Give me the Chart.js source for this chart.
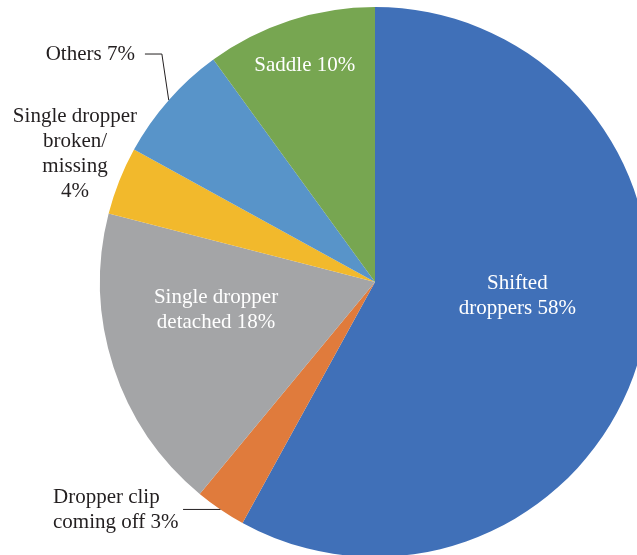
<!DOCTYPE html>
<html>
<head>
<meta charset="utf-8">
<script src="https://cdn.jsdelivr.net/npm/chart.js@4.4.1/dist/chart.umd.min.js"></script>
<style>
  html, body { margin: 0; padding: 0; background: #fff; overflow: hidden; width: 637px; height: 555px; }
  #wrap { position: absolute; left: 0; top: 0; width: 750px; height: 564px; }
</style>
</head>
<body>
<div id="wrap"><canvas id="pie" width="750" height="564"></canvas></div>
<script>
// Datos del gráfico
const categories = [
  "Shifted droppers",
  "Dropper clip coming off",
  "Single dropper detached",
  "Single dropper broken/missing",
  "Others",
  "Saddle"
];
const values = [58, 3, 18, 4, 7, 10];
const colors = ["#4070b8", "#e07b3c", "#a4a5a7", "#f2b92c", "#5894c9", "#77a651"];

// Texto de las etiquetas (líneas)
const labelLines = [
  ["Shifted", "droppers 58%"],
  ["Dropper clip", "coming off 3%"],
  ["Single dropper", "detached 18%"],
  ["Single dropper", "broken/", "missing", "4%"],
  ["Others 7%"],
  ["Saddle 10%"]
];

// Colocación de etiquetas (en unidades del radio, relativo al centro)
const labelPlace = [
  { inside: true, angle: 95.6, f: 0.52 },
  { x: -1.171, y: 0.83, align: "left", leader: -0.698 },
  { inside: true, angle: 260, f: 0.587 },
  { x: -1.091, y: -0.467, align: "center" },
  { x: -0.873, y: -0.829, align: "right", leader: -0.775 },
  { inside: true, angle: 342, f: 0.826 }
];

const FONT = '21px "Liberation Serif", "Times New Roman", serif';
const LINE_H = 25;

const pieLabels = {
  id: "pieLabels",
  afterDatasetsDraw(chart) {
    const ctx = chart.ctx;
    const meta = chart.getDatasetMeta(0);
    ctx.save();
    ctx.font = FONT;
    ctx.textBaseline = "middle";
    meta.data.forEach((arc, i) => {
      const { x: cx, y: cy, outerRadius: r, startAngle, endAngle } = arc.getProps(["x", "y", "outerRadius", "startAngle", "endAngle"], true);
      const p = labelPlace[i];
      const lines = labelLines[i];
      let tx, ty;
      if (p.inside) {
        const a = (p.angle - 90) * Math.PI / 180;
        tx = cx + Math.cos(a) * r * p.f;
        ty = cy + Math.sin(a) * r * p.f;
        ctx.fillStyle = "#ffffff";
        ctx.textAlign = "center";
      } else {
        tx = cx + p.x * r;
        ty = cy + p.y * r;
        ctx.fillStyle = "#231f20";
        ctx.textAlign = p.align;
        if (p.leader !== undefined) {
          const mid = (startAngle + endAngle) / 2;
          const ex = cx + Math.cos(mid) * r;
          const ey = cy + Math.sin(mid) * r;
          const kx = cx + p.leader * r;
          ctx.strokeStyle = "#231f20";
          ctx.lineWidth = 1;
          ctx.beginPath();
          if (p.align === "right") {
            ctx.moveTo(tx + 10, ty);
            ctx.lineTo(kx, ty);
            ctx.lineTo(ex, ey);
          } else {
            ctx.moveTo(kx, ey);
            ctx.lineTo(ex, ey);
          }
          ctx.stroke();
        }
      }
      const top = ty - (lines.length - 1) * LINE_H / 2;
      lines.forEach((ln, k) => ctx.fillText(ln, tx, top + k * LINE_H));
    });
    ctx.restore();
  }
};

new Chart(document.getElementById("pie"), {
  type: "pie",
  data: {
    labels: categories,
    datasets: [{
      data: values,
      backgroundColor: colors,
      borderWidth: 0
    }]
  },
  options: {
    responsive: false,
    animation: false,
    layout: { padding: 7 },
    plugins: {
      legend: { display: false },
      tooltip: { enabled: false }
    }
  },
  plugins: [pieLabels]
});
</script>
</body>
</html>
